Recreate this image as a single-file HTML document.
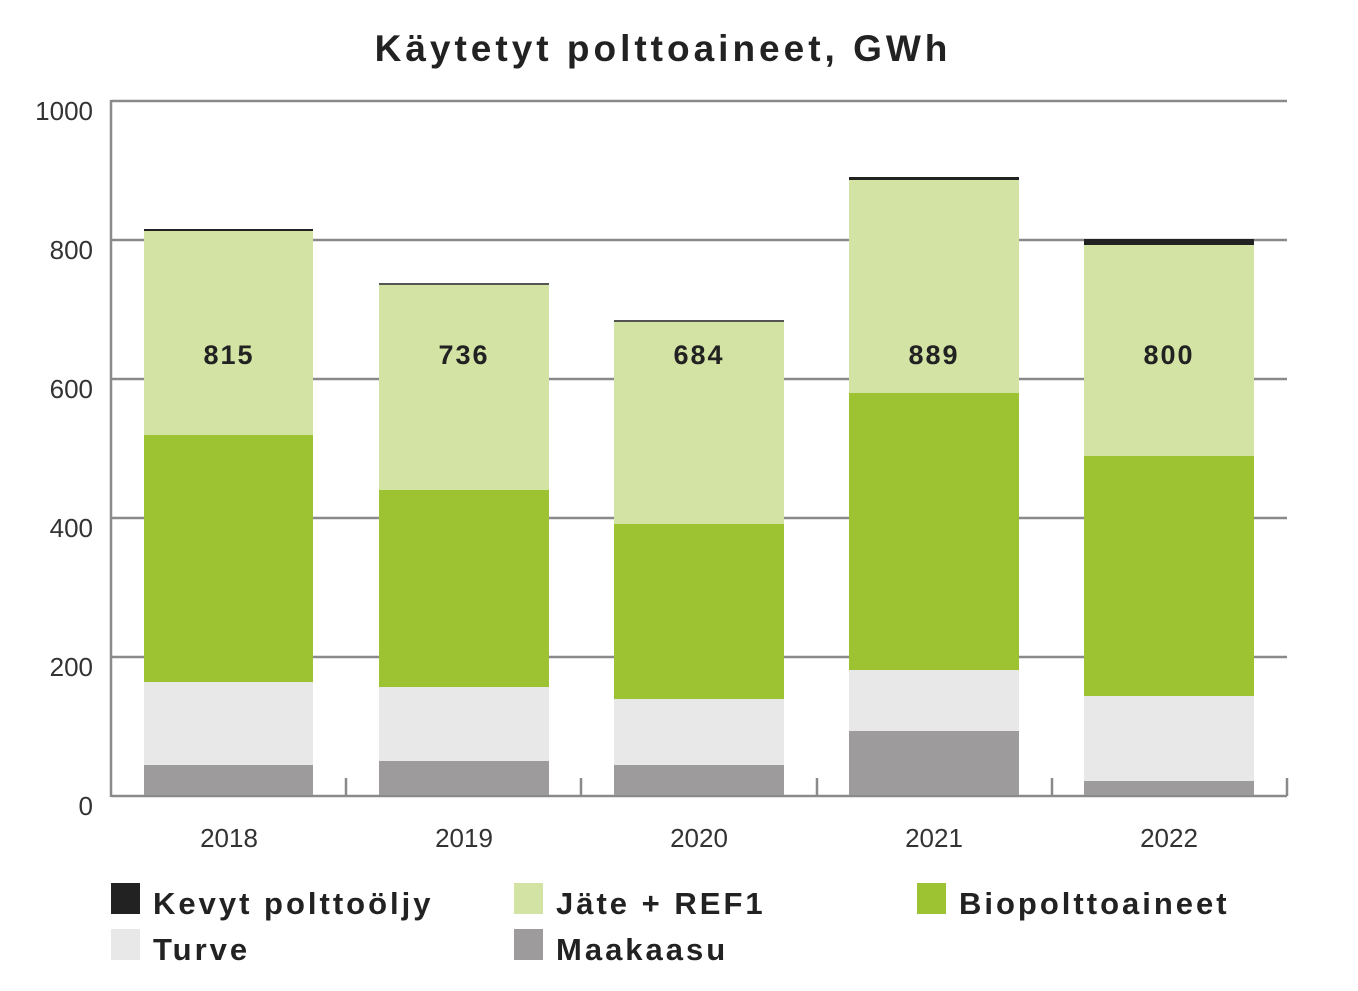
<!DOCTYPE html>
<html><head><meta charset="utf-8"><style>
body{margin:0;background:#fff;width:1358px;height:991px;overflow:hidden}
svg{display:block}
text{font-family:"Liberation Sans",sans-serif}
</style></head><body>
<svg width="1358" height="991" xmlns="http://www.w3.org/2000/svg">
<text x="663" y="61" text-anchor="middle" font-size="37" font-weight="bold" fill="#222" letter-spacing="4">Käytetyt polttoaineet, GWh</text>
<g stroke="#8a8a8a" stroke-width="2.5">
<line x1="111" y1="101" x2="1287" y2="101"/>
<line x1="111" y1="240" x2="1287" y2="240"/>
<line x1="111" y1="379" x2="1287" y2="379"/>
<line x1="111" y1="518" x2="1287" y2="518"/>
<line x1="111" y1="657" x2="1287" y2="657"/>
<line x1="111" y1="796" x2="1287" y2="796"/>
<line x1="111" y1="100" x2="111" y2="797"/>
<line x1="346" y1="778" x2="346" y2="796"/>
<line x1="581" y1="778" x2="581" y2="796"/>
<line x1="817" y1="778" x2="817" y2="796"/>
<line x1="1052" y1="778" x2="1052" y2="796"/>
<line x1="1287" y1="778" x2="1287" y2="796"/>
</g>
<g font-size="26" fill="#333" text-anchor="end">
<text x="93" y="120">1000</text><text x="93" y="259">800</text><text x="93" y="398">600</text><text x="93" y="537">400</text><text x="93" y="676">200</text><text x="93" y="815">0</text>
</g>
<g font-size="26" fill="#333" text-anchor="middle">
<text x="229" y="847">2018</text><text x="464" y="847">2019</text><text x="699" y="847">2020</text><text x="934" y="847">2021</text><text x="1169" y="847">2022</text>
</g>
<g>
<rect x="144" y="229" width="169" height="2" fill="#222"/>
<rect x="144" y="231" width="169" height="204" fill="#d2e3a4"/>
<rect x="144" y="435" width="169" height="247" fill="#9ec332"/>
<rect x="144" y="682" width="169" height="83" fill="#e8e8e8"/>
<rect x="144" y="765" width="169" height="30" fill="#9d9b9c"/>

<rect x="379" y="283" width="170" height="2" fill="#555"/>
<rect x="379" y="285" width="170" height="205" fill="#d2e3a4"/>
<rect x="379" y="490" width="170" height="197" fill="#9ec332"/>
<rect x="379" y="687" width="170" height="74" fill="#e8e8e8"/>
<rect x="379" y="761" width="170" height="34" fill="#9d9b9c"/>

<rect x="614" y="320" width="170" height="2" fill="#555"/>
<rect x="614" y="322" width="170" height="202" fill="#d2e3a4"/>
<rect x="614" y="524" width="170" height="175" fill="#9ec332"/>
<rect x="614" y="699" width="170" height="66" fill="#e8e8e8"/>
<rect x="614" y="765" width="170" height="30" fill="#9d9b9c"/>

<rect x="849" y="177" width="170" height="3" fill="#222"/>
<rect x="849" y="180" width="170" height="213" fill="#d2e3a4"/>
<rect x="849" y="393" width="170" height="277" fill="#9ec332"/>
<rect x="849" y="670" width="170" height="61" fill="#e8e8e8"/>
<rect x="849" y="731" width="170" height="64" fill="#9d9b9c"/>

<rect x="1084" y="239" width="170" height="6" fill="#222"/>
<rect x="1084" y="245" width="170" height="211" fill="#d2e3a4"/>
<rect x="1084" y="456" width="170" height="240" fill="#9ec332"/>
<rect x="1084" y="696" width="170" height="85" fill="#e8e8e8"/>
<rect x="1084" y="781" width="170" height="14" fill="#9d9b9c"/>
</g>
<g font-size="27" font-weight="bold" fill="#222" text-anchor="middle" letter-spacing="2">
<text x="229" y="364">815</text><text x="464" y="364">736</text><text x="699" y="364">684</text><text x="934" y="364">889</text><text x="1169" y="364">800</text>
</g>
<rect x="111" y="883" width="29" height="31" fill="#222"/>
<rect x="111" y="929" width="29" height="31" fill="#e8e8e8"/>
<rect x="514" y="883" width="29" height="31" fill="#d2e3a4"/>
<rect x="514" y="929" width="29" height="31" fill="#9d9b9c"/>
<rect x="917" y="883" width="29" height="31" fill="#9ec332"/>
<g font-size="31" font-weight="bold" fill="#222" letter-spacing="3">
<text x="153" y="914">Kevyt polttoöljy</text>
<text x="153" y="960">Turve</text>
<text x="556" y="914">Jäte + REF1</text>
<text x="556" y="960">Maakaasu</text>
<text x="959" y="914">Biopolttoaineet</text>
</g>
</svg>
</body></html>
